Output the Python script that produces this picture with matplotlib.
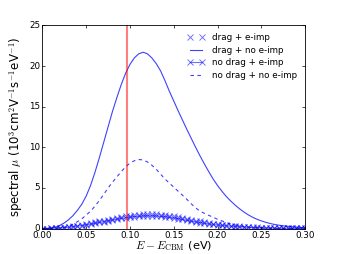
import numpy as np
import matplotlib
matplotlib.use("Agg")
import matplotlib.pyplot as plt

# energy grid (eV above CBM)
energy = [0.000, 0.005, 0.010, 0.015, 0.020, 0.025, 0.030, 0.035, 0.040, 0.045,
          0.050, 0.055, 0.060, 0.065, 0.070, 0.075, 0.080, 0.085, 0.090, 0.095,
          0.100, 0.105, 0.110, 0.115, 0.120, 0.125, 0.130, 0.135, 0.140, 0.145,
          0.150, 0.155, 0.160, 0.165, 0.170, 0.175, 0.180, 0.185, 0.190, 0.195,
          0.200, 0.205, 0.210, 0.215, 0.220, 0.225, 0.230, 0.235, 0.240, 0.245,
          0.250, 0.255, 0.260, 0.265, 0.270, 0.275, 0.280, 0.285, 0.290, 0.295,
          0.300]

drag_eimp = [0.0, 0.01, 0.03, 0.06, 0.1, 0.15, 0.21, 0.28, 0.36, 0.45,
             0.55, 0.66, 0.77, 0.88, 0.99, 1.1, 1.21, 1.32, 1.42, 1.52,
             1.6, 1.67, 1.73, 1.77, 1.79, 1.79, 1.77, 1.73, 1.67, 1.6,
             1.51, 1.41, 1.3, 1.19, 1.08, 0.98, 0.88, 0.79, 0.7, 0.62,
             0.55, 0.48, 0.42, 0.36, 0.31, 0.27, 0.23, 0.2, 0.17, 0.15,
             0.13, 0.11, 0.1, 0.08, 0.07, 0.06, 0.05, 0.045, 0.04, 0.035,
             0.03]

drag_noeimp = [0.0, 0.02, 0.07, 0.17, 0.4, 0.7, 1.1, 1.6, 2.25, 3.0,
               4.0, 5.3, 6.9, 8.7, 10.6, 12.5, 14.4, 16.1, 17.7, 19.1,
               20.2, 21.0, 21.5, 21.7, 21.5, 21.0, 20.3, 19.4, 18.2, 16.9,
               15.7, 14.5, 13.35, 12.2, 11.1, 10.0, 8.95, 7.95, 7.0, 6.1,
               5.3, 4.6, 3.95, 3.4, 2.9, 2.45, 2.05, 1.7, 1.4, 1.15,
               0.95, 0.78, 0.63, 0.51, 0.42, 0.34, 0.28, 0.23, 0.18, 0.14,
               0.11]

nodrag_eimp = [0.0, 0.01, 0.02, 0.05, 0.08, 0.12, 0.17, 0.23, 0.3, 0.38,
               0.47, 0.56, 0.66, 0.76, 0.86, 0.96, 1.06, 1.16, 1.25, 1.34,
               1.41, 1.47, 1.52, 1.55, 1.57, 1.57, 1.55, 1.51, 1.46, 1.39,
               1.31, 1.22, 1.12, 1.02, 0.92, 0.83, 0.74, 0.66, 0.58, 0.51,
               0.45, 0.39, 0.34, 0.29, 0.25, 0.21, 0.18, 0.15, 0.13, 0.11,
               0.1, 0.08, 0.07, 0.06, 0.05, 0.04, 0.035, 0.03, 0.025, 0.02,
               0.02]

nodrag_noeimp = [0.0, 0.0, 0.01, 0.03, 0.07, 0.15, 0.3, 0.55, 0.85, 1.2,
                 1.65, 2.15, 2.75, 3.45, 4.2, 5.0, 5.7, 6.35, 7.0, 7.6,
                 8.05, 8.35, 8.5, 8.45, 8.2, 7.8, 7.3, 6.7, 6.1, 5.6,
                 5.1, 4.6, 4.1, 3.6, 3.05, 2.55, 2.15, 1.88, 1.63, 1.4,
                 1.15, 0.95, 0.75, 0.58, 0.45, 0.34, 0.25, 0.18, 0.13, 0.09,
                 0.06, 0.04, 0.03, 0.02, 0.015, 0.01, 0.008, 0.006, 0.004, 0.003,
                 0.002]

e_fermi = 0.097

plt.style.use("classic")
fig = plt.figure(figsize=(3.39, 2.54), dpi=100, facecolor="white")
ax = fig.add_axes([0.125, 0.1, 0.775, 0.8])

blue = "b"
ax.plot(energy, drag_eimp, "x", color=blue, alpha=0.55, ms=4, mew=0.7,
        label="drag + e-imp")
ax.plot(energy, drag_noeimp, "-", color=blue, alpha=0.75, lw=0.8,
        label="drag + no e-imp")
ax.plot(energy, nodrag_eimp, "x-", color=blue, alpha=0.55, ms=4, mew=0.7,
        lw=0.8, label="no drag + e-imp")
ax.plot(energy, nodrag_noeimp, "--", color=blue, alpha=0.75, lw=0.8,
        dashes=(2.5, 2.5), label="no drag + no e-imp")
ax.axvline(e_fermi, color="r", alpha=0.5, lw=1.5)

ax.set_xlim(0, 0.3)
ax.set_ylim(0, 25)
xt = np.arange(0, 0.301, 0.05)
ax.set_xticks(xt)
ax.set_xticklabels(["%.2f" % t for t in xt])
ax.tick_params(labelsize=6.3, length=2.5, width=0.5, pad=1.5)
for sp in ax.spines.values():
    sp.set_linewidth(0.6)

ax.set_xlabel(r"$E-E_{\rm CBM}$ (eV)", fontsize=8.2, labelpad=-0.5)
ax.set_ylabel(r"spectral $\mu$ (10$^3$cm$^2$V$^{-1}$s$^{-1}$eV$^{-1}$)",
              fontsize=8.5, labelpad=3)

ax.legend(loc="upper right", frameon=False, fontsize=6.3, numpoints=2,
          handlelength=2.0, labelspacing=0.4, borderaxespad=0.5)

fig.savefig("out.png", dpi=100, facecolor="white")
